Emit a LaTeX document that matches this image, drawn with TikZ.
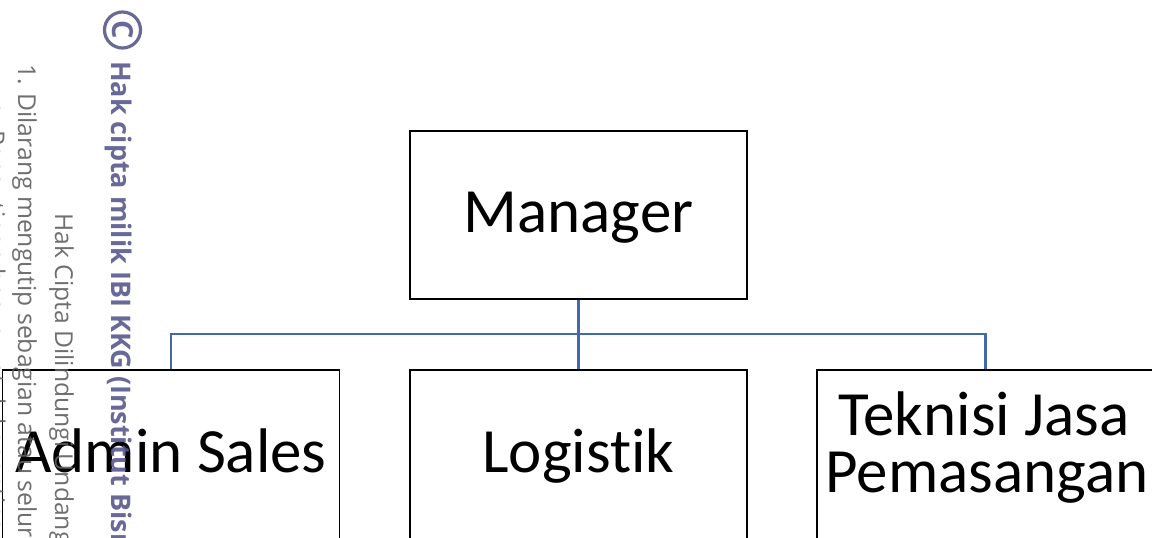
\documentclass[tikz,border=0pt]{standalone}
\usepackage{fontspec}
\setmainfont{Carlito}[Ligatures={NoCommon}]
\newfontfamily\wmfont{Open Sans}
\definecolor{wmpurple}{RGB}{88,88,142}
\definecolor{wmgray}{RGB}{95,95,95}
\definecolor{busblue}{RGB}{68,104,174}
\begin{document}
\begin{tikzpicture}[x=1pt,y=-1pt,
  orgbox/.style={draw=black,line width=1.8pt,minimum width=337pt,inner sep=0pt,
    font=\fontsize{63}{57}\selectfont,text height=45pt,text depth=10pt},
  boxtext/.style={inner sep=0pt,anchor=base,font=\fontsize{63}{57}\selectfont},
  link/.style={draw=busblue,line width=2.6pt},
  wm/.style={rotate=-90,anchor=base west,inner sep=0pt,
    font=\wmfont\fontsize{24.7}{30}\selectfont,text=wmgray},
  wmbold/.style={rotate=-90,anchor=base west,inner sep=0pt,
    font=\wmfont\bfseries\fontsize{27}{30}\selectfont,text=wmpurple}]
\useasboundingbox (0,0) rectangle (1152,538);
\clip (0,0) rectangle (1152,538);

% organisation chart
\node[orgbox,minimum height=168pt] (mgr) at (578.5,215) {Manager};
\node[orgbox,minimum height=170pt] (adm) at (171,455) {Admin Sales};
\node[orgbox,minimum height=170pt] (log) at (578.5,455) {Logistik};
\node[orgbox,minimum height=170pt] (tek) at (985.5,455) {};
\node[boxtext] (tekA) at (984,435) {Teknisi Jasa};
\node[boxtext] (tekB) at (987,492) {Pemasangan};

\coordinate (bus) at (578.5,334);
\draw[link] (mgr.south) -- (bus);
\draw[link] (bus) -| (adm.north);
\draw[link] (bus) -- (log.north);
\draw[link] (bus) -| (tek.north);

% copyright notice along the left margin
\begin{scope}[opacity=0.9]
\node[draw=wmpurple,line width=3.2pt,circle,minimum size=36pt,inner sep=0pt] (cmark) at (122.5,30) {};
\node[rotate=-90,inner sep=0pt,text=wmpurple,font=\wmfont\bfseries\fontsize{29}{30}\selectfont] (cletter) at (cmark.center) {C};
\node[wmbold] (owner) at (111,61) {Hak cipta milik IBI KKG (Institut Bisnis};
\node[wm] (head) at (55,213) {Hak Cipta Dilindungi Undang-Undang};
\node[wm] (rule1) at (18,64) {1. Dilarang mengutip sebagian atau seluruh};
\node[wm] (rule1a) at (-13,101) {a. Pengutipan hanya untuk kepentingan pendidikan, penelitian};
\end{scope}
\end{tikzpicture}
\end{document}
